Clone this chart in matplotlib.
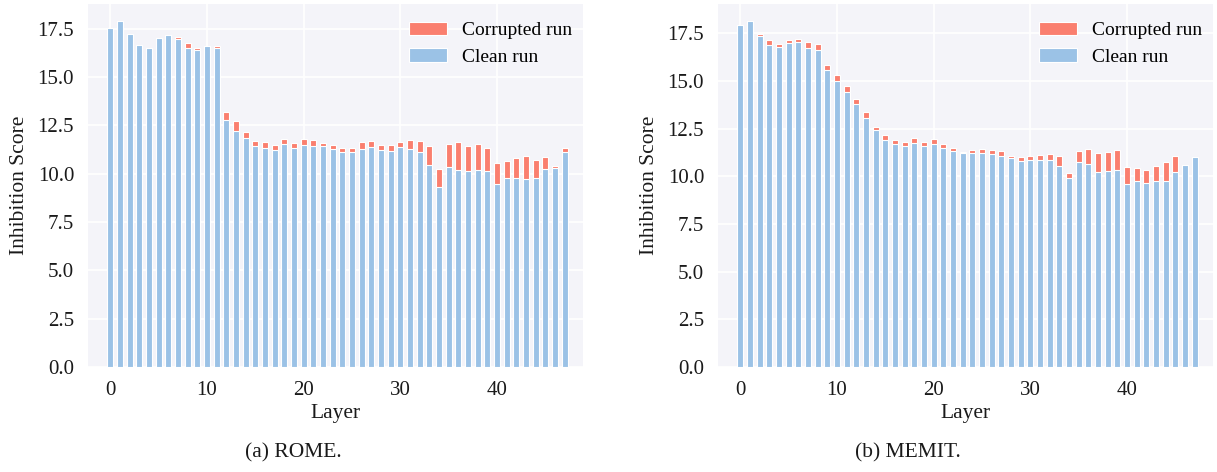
import matplotlib
matplotlib.use("Agg")
import matplotlib.pyplot as plt
import numpy as np

layers = list(range(48))

rome_clean = [17.51, 17.88, 17.21, 16.66, 16.50, 17.03, 17.15, 16.95, 16.49, 16.38,
              16.59, 16.49, 12.75, 12.23, 11.82, 11.43, 11.32, 11.20, 11.51, 11.32,
              11.46, 11.41, 11.41, 11.25, 11.13, 11.10, 11.25, 11.39, 11.22, 11.18,
              11.39, 11.29, 11.13, 10.45, 9.30, 10.36, 10.17, 10.14, 10.19, 10.14,
              9.49, 9.78, 9.78, 9.74, 9.76, 10.26, 10.31, 11.13]
rome_corrupt = [17.51, 17.88, 17.21, 16.66, 16.50, 17.03, 17.15, 17.05, 16.74, 16.49,
                16.59, 16.59, 13.18, 12.73, 12.15, 11.70, 11.63, 11.49, 11.80, 11.56,
                11.80, 11.72, 11.60, 11.49, 11.31, 11.34, 11.63, 11.68, 11.49, 11.48,
                11.65, 11.73, 11.67, 11.41, 10.26, 11.54, 11.65, 11.43, 11.54, 11.34,
                10.57, 10.65, 10.81, 10.89, 10.71, 10.84, 10.40, 11.32]

memit_clean = [17.91, 18.13, 17.36, 16.91, 16.79, 16.98, 17.05, 16.75, 16.63, 15.58,
               15.01, 14.43, 13.80, 13.07, 12.44, 11.91, 11.70, 11.60, 11.74, 11.60,
               11.70, 11.49, 11.32, 11.20, 11.23, 11.20, 11.15, 11.08, 10.95, 10.78,
               10.83, 10.87, 10.87, 10.53, 9.92, 10.74, 10.62, 10.24, 10.29, 10.34,
               9.58, 9.73, 9.63, 9.73, 9.75, 10.24, 10.57, 10.99]
memit_corrupt = [17.94, 18.13, 17.46, 17.17, 16.93, 17.14, 17.19, 17.03, 16.95, 15.83,
                 15.32, 14.76, 14.08, 13.35, 12.61, 12.18, 11.93, 11.79, 12.02, 11.81,
                 11.95, 11.69, 11.48, 11.25, 11.37, 11.43, 11.37, 11.32, 11.09, 11.01,
                 11.06, 11.13, 11.16, 11.04, 10.18, 11.34, 11.43, 11.22, 11.27, 11.39,
                 10.47, 10.41, 10.34, 10.53, 10.74, 11.06, 10.57, 10.99]

captions = ["(a) ROME.", "(b) MEMIT."]
series_labels = ["Corrupted run", "Clean run"]

RED = "#FA7F6F"
BLUE = "#9BC2E6"
BG = "#F4F4F9"
TXT = "#1a1a1a"

plt.rcParams["font.family"] = ["Liberation Serif", "DejaVu Serif"]

W, H = 1217, 472
fig = plt.figure(figsize=(W / 100, H / 100), dpi=100)

boxes = [(88, 4, 583, 367), (718, 4, 1213, 367)]
cap_x = [293, 908]
data = [(rome_clean, rome_corrupt), (memit_clean, memit_corrupt)]

for i, ((l, t, r, b), (clean, corrupt)) in enumerate(zip(boxes, data)):
    ax = fig.add_axes([l / W, (H - b) / H, (r - l) / W, (b - t) / H])
    ax.set_facecolor(BG)
    ax.set_axisbelow(True)
    ax.grid(True, color="white", linewidth=1.2)
    for s in ax.spines.values():
        s.set_visible(False)
    ax.bar(layers, corrupt, width=0.62, color=RED, edgecolor="white", linewidth=0.8,
           label=series_labels[0])
    ax.bar(layers, clean, width=0.62, color=BLUE, edgecolor="white", linewidth=0.8,
           label=series_labels[1])
    ax.set_xticks([0, 10, 20, 30, 40])
    ax.set_yticks(np.arange(0, 17.6, 2.5))
    ax.yaxis.set_major_formatter(matplotlib.ticker.FormatStrFormatter("%.1f"))
    ax.tick_params(axis="both", length=0, labelsize=15, pad=10, colors=TXT)
    ax.set_xlim(-2.3, 48.9)
    ax.set_ylim(0, max(corrupt) * 1.05)
    ax.set_xlabel("Layer", fontsize=15.5, color=TXT, labelpad=3)
    ax.set_ylabel("Inhibition Score", fontsize=15.5, color=TXT, labelpad=6)
    ax.legend(loc="upper right", frameon=False, fontsize=14, handlelength=1.95,
              handleheight=0.7, labelspacing=0.45, borderaxespad=0,
              bbox_to_anchor=(1 - 3 / 495, 1 - 10 / 363))
    fig.text(cap_x[i] / W, 1 - 453 / H, captions[i], ha="center", va="center",
             fontsize=15.5, color=TXT)

fig.savefig("out.png", dpi=100)
